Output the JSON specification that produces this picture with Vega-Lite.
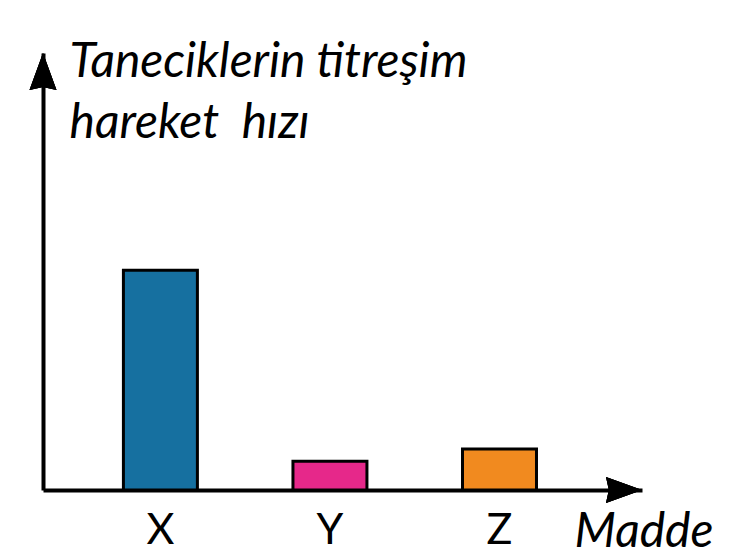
{
  "$schema": "https://vega.github.io/schema/vega-lite/v6.json",
  "width": 599,
  "height": 437,
  "autosize": {"type": "none"},
  "padding": {"left": 43, "top": 53, "right": 90, "bottom": 68},
  "background": "white",
  "config": {"view": {"stroke": null}},
  "data": {"values": [
    {"madde": "X", "hiz": 50.3},
    {"madde": "Y", "hiz": 6.6},
    {"madde": "Z", "hiz": 9.4}
  ]},
  "layer": [
    {
      "mark": {"type": "bar", "stroke": "black", "strokeWidth": 3, "strokeJoin": "miter"},
      "encoding": {
        "x": {
          "field": "madde", "type": "nominal",
          "scale": {"domain": ["X", "Y", "Z"], "paddingInner": 0.5636, "paddingOuter": 0.5483, "align": 0.4325},
          "axis": {
            "title": "Madde", "grid": false, "domainColor": "black", "domainWidth": 4,
            "ticks": false, "tickSize": 0, "labelAngle": 0,
            "labelFont": "Lato", "labelFontSize": 43, "labelColor": "black",
            "labelBaseline": "alphabetic", "labelPadding": 53,
            "titleFont": "Lato", "titleFontStyle": "italic", "titleFontWeight": "normal",
            "titleFontSize": 48, "titleColor": "black", "titleAlign": "left",
            "titleBaseline": "alphabetic", "titleX": 531, "titleY": 56
          }
        },
        "y": {
          "field": "hiz", "type": "quantitative",
          "scale": {"domain": [0, 100]},
          "axis": {
            "title": ["Taneciklerin titreşim", "hareket\u00a0\u00a0hızı"],
            "grid": false, "domainColor": "black", "domainWidth": 4,
            "ticks": false, "labels": false,
            "titleAngle": 0, "titleAlign": "left", "titleBaseline": "alphabetic",
            "titleX": 26, "titleY": 23,
            "titleFont": "Lato", "titleFontStyle": "italic", "titleFontWeight": "normal",
            "titleFontSize": 48, "titleLineHeight": 61, "titleColor": "black"
          }
        },
        "color": {
          "field": "madde", "type": "nominal",
          "scale": {"domain": ["X", "Y", "Z"], "range": ["#1670a0", "#e6288a", "#f18a1f"]},
          "legend": null
        }
      }
    },
    {
      "mark": {"type": "point", "shape": "M0,0L0.73,2L0,1.84L-0.73,2Z", "size": 1369, "filled": true, "color": "black", "opacity": 1, "strokeWidth": 0},
      "encoding": {
        "x": {"datum": 0, "type": "quantitative", "scale": {"domain": [0, 1]}, "axis": null},
        "y": {"datum": 100, "type": "quantitative"}
      }
    },
    {
      "mark": {"type": "point", "shape": "M0,0L-2,-0.72L-1.84,0L-2,0.72Z", "size": 1296, "filled": true, "color": "black", "opacity": 1, "strokeWidth": 0},
      "encoding": {
        "x": {"datum": 1, "type": "quantitative", "scale": {"domain": [0, 1]}, "axis": null},
        "y": {"datum": 0, "type": "quantitative"}
      }
    }
  ],
  "resolve": {"scale": {"x": "independent"}, "axis": {"x": "independent"}}
}
